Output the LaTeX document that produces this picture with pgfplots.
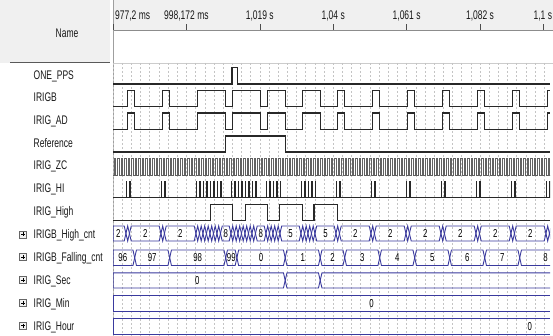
\documentclass[border=0pt]{standalone}
\usepackage{pgfplots}
\usepackage{pgfplotstable}
\pgfplotsset{compat=1.18}
\usepackage{fontspec}
\setmainfont{Liberation Sans}[FakeStretch=0.68]
\definecolor{hdr}{RGB}{240,240,240}
\definecolor{busc}{RGB}{58,58,158}
\definecolor{sigc}{RGB}{40,40,40}
\definecolor{gridc}{RGB}{196,196,196}
\definecolor{txt}{RGB}{25,25,25}
\begin{document}
\begin{tikzpicture}
\useasboundingbox (0,0) rectangle (553pt,-336pt);
\begin{scope}[x=1pt,y=-1pt]
\fill[white] (0,0) rectangle (553,336);
\fill[hdr] (0,0) rectangle (110,63);
\fill[hdr] (113,0) rectangle (553,30);
\draw[gray!90, line width=0.6pt] (113,30) -- (553,30);
\draw[black!65, line width=1pt] (10,63) -- (110,63);
\draw[gray!40, line width=0.6pt] (113,63) -- (553,63);
\draw[gray!75, line width=0.8pt] (113,0) -- (113,336);
\node[anchor=base, txt, font=\fontsize{12.5}{14}\selectfont] at (67,37.5) {Name};
\foreach \n/\y in {ONE\_PPS/75, IRIGB/97.5, IRIG\_AD/120.2, Reference/143, IRIG\_ZC/165.5, IRIG\_HI/188.5, IRIG\_High/211.5, IRIGB\_High\_cnt/234.5, IRIGB\_Falling\_cnt/257, IRIG\_Sec/280, IRIG\_Min/303, IRIG\_Hour/325.5}
  \node[anchor=base west, txt, inner sep=0pt, font=\fontsize{12.5}{14}\selectfont] at (33.5,\y+4.5) {\n};
\foreach \y in {234.5,257,280,303,325.5}{
  \draw[gray!80!black, fill=gray!10, line width=0.5pt] (19.5,\y-3.5) rectangle (26.5,\y+3.5);
  \draw[black, line width=0.6pt] (21,\y) -- (25,\y) (23,\y-2) -- (23,\y+2);
}
\end{scope}
\begin{axis}[at={(113pt,-63pt)}, anchor=north west, scale only axis,
  width=437pt, height=273pt,
  xmin=977.2, xmax=1102.06, ymin=63, ymax=336, y dir=reverse,
  axis line style={draw=none}, major tick length=0pt,
  xtick={977.2,979.8215,...,1102}, xticklabels={}, ytick=\empty,
  xmajorgrids, grid style={gridc, line width=0.5pt, dash pattern=on 2pt off 2pt},
  clip mode=individual]
% time header
\foreach \t/\l in {998.172/{998,172 ms}, 1019.144/{1,019 s}, 1040.116/{1,04 s}, 1061.088/{1,061 s}, 1082.06/{1,082 s}, 1100/{1,1 s}}{
  \edef\temp{\noexpand\node[anchor=base, txt, font=\noexpand\fontsize{12.5}{14}\noexpand\selectfont] at (axis cs:\t,19.5) {\l};
  \noexpand\draw[gray!60!black, line width=0.6pt] (axis cs:\t,24.5) -- (axis cs:\t,30);}
  \temp
}
\node[anchor=base west, txt, font=\fontsize{12.5}{14}\selectfont, inner sep=0pt, xshift=2pt] at (axis cs:977.2,19.5) {977,2 ms};
\draw[gray!60!black, line width=0.6pt] (axis cs:977.4,24.5) -- (axis cs:977.4,30);
% ONE_PPS
\addplot[const plot, sigc, line width=1.3pt] table[row sep=\\, x=t, y expr={84-16.5*\thisrow{s}}]{
t s\\ 977.2 0\\ 1011.2 1\\ 1012.7 0\\ 1102.06 0\\};
% IRIGB and IRIG_AD
\pgfplotstableread[row sep=\\]{
t s\\ 977.2 0\\ 981.4 1\\ 983.4 0\\ 991.4 1\\ 993.4 0\\ 1001.4 1\\ 1009.4 0\\ 1011.4 1\\ 1019.4 0\\
1021.4 1\\ 1026.4 0\\ 1031.4 1\\ 1036.4 0\\ 1041.4 1\\ 1043.4 0\\ 1051.4 1\\ 1053.4 0\\
1061.4 1\\ 1063.4 0\\ 1071.4 1\\ 1073.4 0\\ 1081.4 1\\ 1083.4 0\\ 1091.4 1\\ 1093.4 0\\
1101.4 1\\ 1102.06 1\\}\irigb
\addplot[const plot, sigc, line width=1.3pt] table[x=t, y expr={106.8-16.5*\thisrow{s}}]{\irigb};
\addplot[const plot, sigc, line width=1.3pt] table[x=t, y expr={129.6-16.5*\thisrow{s}}]{\irigb};
% Reference
\addplot[const plot, sigc, line width=1.3pt] table[row sep=\\, x=t, y expr={152-16*\thisrow{s}}]{
t s\\ 977.2 0\\ 1009.4 1\\ 1026.4 0\\ 1102.06 0\\};
% IRIG_ZC
\addplot[const plot, black!62, line width=0.6pt] table[row sep=\\, x=t, y expr={175-16.3*\thisrow{s}}]{
t s\\ 977.2 0\\
977.45 1\\977.95 0\\978.45 1\\978.95 0\\979.45 1\\979.95 0\\980.45 1\\980.95 0\\981.45 1\\981.95 0\\
982.45 1\\982.95 0\\983.45 1\\983.95 0\\984.45 1\\984.95 0\\985.45 1\\985.95 0\\986.45 1\\986.95 0\\
987.45 1\\987.95 0\\988.45 1\\988.95 0\\989.45 1\\989.95 0\\990.45 1\\990.95 0\\991.45 1\\991.95 0\\
992.45 1\\992.95 0\\993.45 1\\993.95 0\\994.45 1\\994.95 0\\995.45 1\\995.95 0\\996.45 1\\996.95 0\\
997.45 1\\997.95 0\\998.45 1\\998.95 0\\999.45 1\\999.95 0\\1000.45 1\\1000.95 0\\1001.45 1\\1001.95 0\\
1002.45 1\\1002.95 0\\1003.45 1\\1003.95 0\\1004.45 1\\1004.95 0\\1005.45 1\\1005.95 0\\1006.45 1\\1006.95 0\\
1007.45 1\\1007.95 0\\1008.45 1\\1008.95 0\\1009.45 1\\1009.95 0\\1010.45 1\\1010.95 0\\1011.45 1\\1011.95 0\\
1012.45 1\\1012.95 0\\1013.45 1\\1013.95 0\\1014.45 1\\1014.95 0\\1015.45 1\\1015.95 0\\1016.45 1\\1016.95 0\\
1017.45 1\\1017.95 0\\1018.45 1\\1018.95 0\\1019.45 1\\1019.95 0\\1020.45 1\\1020.95 0\\1021.45 1\\1021.95 0\\
1022.45 1\\1022.95 0\\1023.45 1\\1023.95 0\\1024.45 1\\1024.95 0\\1025.45 1\\1025.95 0\\1026.45 1\\1026.95 0\\
1027.45 1\\1027.95 0\\1028.45 1\\1028.95 0\\1029.45 1\\1029.95 0\\1030.45 1\\1030.95 0\\1031.45 1\\1031.95 0\\
1032.45 1\\1032.95 0\\1033.45 1\\1033.95 0\\1034.45 1\\1034.95 0\\1035.45 1\\1035.95 0\\1036.45 1\\1036.95 0\\
1037.45 1\\1037.95 0\\1038.45 1\\1038.95 0\\1039.45 1\\1039.95 0\\1040.45 1\\1040.95 0\\1041.45 1\\1041.95 0\\
1042.45 1\\1042.95 0\\1043.45 1\\1043.95 0\\1044.45 1\\1044.95 0\\1045.45 1\\1045.95 0\\1046.45 1\\1046.95 0\\
1047.45 1\\1047.95 0\\1048.45 1\\1048.95 0\\1049.45 1\\1049.95 0\\1050.45 1\\1050.95 0\\1051.45 1\\1051.95 0\\
1052.45 1\\1052.95 0\\1053.45 1\\1053.95 0\\1054.45 1\\1054.95 0\\1055.45 1\\1055.95 0\\1056.45 1\\1056.95 0\\
1057.45 1\\1057.95 0\\1058.45 1\\1058.95 0\\1059.45 1\\1059.95 0\\1060.45 1\\1060.95 0\\1061.45 1\\1061.95 0\\
1062.45 1\\1062.95 0\\1063.45 1\\1063.95 0\\1064.45 1\\1064.95 0\\1065.45 1\\1065.95 0\\1066.45 1\\1066.95 0\\
1067.45 1\\1067.95 0\\1068.45 1\\1068.95 0\\1069.45 1\\1069.95 0\\1070.45 1\\1070.95 0\\1071.45 1\\1071.95 0\\
1072.45 1\\1072.95 0\\1073.45 1\\1073.95 0\\1074.45 1\\1074.95 0\\1075.45 1\\1075.95 0\\1076.45 1\\1076.95 0\\
1077.45 1\\1077.95 0\\1078.45 1\\1078.95 0\\1079.45 1\\1079.95 0\\1080.45 1\\1080.95 0\\1081.45 1\\1081.95 0\\
1082.45 1\\1082.95 0\\1083.45 1\\1083.95 0\\1084.45 1\\1084.95 0\\1085.45 1\\1085.95 0\\1086.45 1\\1086.95 0\\
1087.45 1\\1087.95 0\\1088.45 1\\1088.95 0\\1089.45 1\\1089.95 0\\1090.45 1\\1090.95 0\\1091.45 1\\1091.95 0\\
1092.45 1\\1092.95 0\\1093.45 1\\1093.95 0\\1094.45 1\\1094.95 0\\1095.45 1\\1095.95 0\\1096.45 1\\1096.95 0\\
1097.45 1\\1097.95 0\\1098.45 1\\1098.95 0\\1099.45 1\\1099.95 0\\1100.45 1\\1100.95 0\\1101.45 1\\1101.95 0\\
1102.06 0\\};
% IRIG_HI
\addplot[const plot, sigc, line width=0.75pt] table[row sep=\\, x=t, y expr={197.5-16*\thisrow{s}}]{
t s\\ 977.2 0\\
980.9 1\\ 981.05 0\\ 981.9 1\\ 982.05 0\\
990.9 1\\ 991.05 0\\ 991.9 1\\ 992.05 0\\
1000.9 1\\ 1001.05 0\\ 1001.9 1\\ 1002.05 0\\ 1002.9 1\\ 1003.05 0\\ 1003.9 1\\ 1004.05 0\\
1004.9 1\\ 1005.05 0\\ 1005.9 1\\ 1006.05 0\\ 1006.9 1\\ 1007.05 0\\ 1007.9 1\\ 1008.05 0\\
1010.9 1\\ 1011.05 0\\ 1011.9 1\\ 1012.05 0\\ 1012.9 1\\ 1013.05 0\\ 1013.9 1\\ 1014.05 0\\
1014.9 1\\ 1015.05 0\\ 1015.9 1\\ 1016.05 0\\ 1016.9 1\\ 1017.05 0\\ 1017.9 1\\ 1018.05 0\\
1020.9 1\\ 1021.05 0\\ 1021.9 1\\ 1022.05 0\\ 1022.9 1\\ 1023.05 0\\ 1023.9 1\\ 1024.05 0\\ 1024.9 1\\ 1025.05 0\\
1030.9 1\\ 1031.05 0\\ 1031.9 1\\ 1032.05 0\\ 1032.9 1\\ 1033.05 0\\ 1033.9 1\\ 1034.05 0\\ 1034.9 1\\ 1035.05 0\\
1040.9 1\\ 1041.05 0\\ 1041.9 1\\ 1042.05 0\\
1050.9 1\\ 1051.05 0\\ 1051.9 1\\ 1052.05 0\\
1060.9 1\\ 1061.05 0\\ 1061.9 1\\ 1062.05 0\\
1070.9 1\\ 1071.05 0\\ 1071.9 1\\ 1072.05 0\\
1080.9 1\\ 1081.05 0\\ 1081.9 1\\ 1082.05 0\\
1090.9 1\\ 1091.05 0\\ 1091.9 1\\ 1092.05 0\\
1100.9 1\\ 1101.05 0\\ 1101.9 1\\ 1102.05 0\\};
% IRIG_High
\addplot[const plot, sigc, line width=1.3pt] table[row sep=\\, x=t, y expr={220.5-16*\thisrow{s}}]{
t s\\ 977.2 0\\ 1005.1 1\\ 1011.4 0\\ 1015.0 1\\ 1021.4 0\\ 1024.7 1\\ 1031.4 0\\ 1034.6 1\\ 1041.4 0\\ 1102.06 0\\};
% IRIGB_High_cnt
\pgfplotstableread[row sep=\\]{
t s\\ 977.2 1\\ 977.2 0\\ 980.4 0\\ 981.4 1\\ 982.4 0\\ 990.4 0\\ 991.4 1\\ 992.4 0\\
1000.4 0\\ 1001.4 1\\ 1002.4 0\\ 1003.4 1\\ 1004.4 0\\ 1005.4 1\\ 1006.4 0\\ 1007.4 1\\ 1008.4 0\\
1010.4 0\\ 1011.4 1\\ 1012.4 0\\ 1013.4 1\\ 1014.4 0\\ 1015.4 1\\ 1016.4 0\\ 1017.4 1\\ 1018.4 0\\
1020.4 0\\ 1021.4 1\\ 1022.4 0\\ 1023.4 1\\ 1024.4 0\\ 1025.4 1\\
1030.4 1\\ 1031.4 0\\ 1032.4 1\\ 1033.4 0\\ 1034.4 1\\ 1035.4 0\\
1040.4 0\\ 1041.4 1\\ 1042.4 0\\ 1050.4 0\\ 1051.4 1\\ 1052.4 0\\ 1060.4 0\\ 1061.4 1\\ 1062.4 0\\
1070.4 0\\ 1071.4 1\\ 1072.4 0\\ 1080.4 0\\ 1081.4 1\\ 1082.4 0\\ 1090.4 0\\ 1091.4 1\\ 1092.4 0\\
1100.4 0\\ 1101.4 1\\ 1102.4 0\\}\highcnt
\addplot[busc, line width=0.9pt] table[x=t, y expr={226+15*\thisrow{s}}]{\highcnt};
\addplot[busc, line width=0.9pt] table[x=t, y expr={241-15*\thisrow{s}}]{\highcnt};
% IRIGB_Falling_cnt
\pgfplotstableread[row sep=\\]{
t s\\ 977.2 1\\ 977.2 0\\ 982.9 0\\ 983.9 1\\ 992.9 1\\ 993.9 0\\ 1008.9 0\\ 1009.9 1\\ 1012.1 1\\ 1013.1 0\\
1025.9 0\\ 1026.9 1\\ 1035.9 1\\ 1036.9 0\\ 1042.9 0\\ 1043.9 1\\ 1052.9 1\\ 1053.9 0\\
1062.9 0\\ 1063.9 1\\ 1072.9 1\\ 1073.9 0\\ 1082.9 0\\ 1083.9 1\\ 1092.9 1\\ 1093.9 0\\ 1102.06 0\\}\fallcnt
\addplot[busc, line width=0.9pt] table[x=t, y expr={250+15.5*\thisrow{s}}]{\fallcnt};
\addplot[busc, line width=0.9pt] table[x=t, y expr={265.5-15.5*\thisrow{s}}]{\fallcnt};
% IRIG_Sec
\pgfplotstableread[row sep=\\]{
t s\\ 977.2 1\\ 977.2 0\\ 1025.9 0\\ 1026.9 1\\ 1035.9 1\\ 1036.9 0\\ 1102.06 0\\}\seccnt
\addplot[busc, line width=0.9pt] table[x=t, y expr={272.8+15.2*\thisrow{s}}]{\seccnt};
\addplot[busc, line width=0.9pt] table[x=t, y expr={288-15.2*\thisrow{s}}]{\seccnt};
% IRIG_Min, IRIG_Hour
\pgfplotstableread[row sep=\\]{
t s\\ 977.2 1\\ 977.2 0\\ 1102.06 0\\}\flatbus
\addplot[busc, line width=0.9pt] table[x=t, y expr={295.4+15.6*\thisrow{s}}]{\flatbus};
\addplot[busc, line width=0.9pt] table[x=t, y expr={311-15.6*\thisrow{s}}]{\flatbus};
\addplot[busc, line width=0.9pt] table[x=t, y expr={318.6+15.4*\thisrow{s}}]{\flatbus};
\addplot[busc, line width=0.9pt] table[x=t, y expr={334-15.4*\thisrow{s}}]{\flatbus};
% bus values
\foreach \t/\v in {978.7/2, 986.4/2, 996.4/2, 1009.4/8, 1019.4/8, 1027.9/5, 1037.9/5, 1046.4/2, 1056.4/2, 1066.4/2, 1076.4/2, 1086.4/2, 1096.4/2}{
  \edef\temp{\noexpand\node[anchor=base, black, inner sep=0pt, font=\noexpand\fontsize{11.5}{13}\noexpand\selectfont] at (axis cs:\t,237.6) {\v};}\temp}
\foreach \t/\v in {980.0/96, 988.4/97, 1001.4/98, 1011.0/99, 1019.5/0, 1031.4/1, 1039.9/2, 1048.4/3, 1058.4/4, 1068.4/5, 1078.4/6, 1088.4/7, 1100.8/8}{
  \edef\temp{\noexpand\node[anchor=base, black, inner sep=0pt, font=\noexpand\fontsize{11.5}{13}\noexpand\selectfont] at (axis cs:\t,261.9) {\v};}\temp}
\node[anchor=base, black, inner sep=0pt, font=\fontsize{11.5}{13}\selectfont] at (axis cs:1001.3,284.5) {0};
\node[anchor=base, black, inner sep=0pt, font=\fontsize{11.5}{13}\selectfont] at (axis cs:1051.1,307.3) {0};
\node[anchor=base, black, inner sep=0pt, font=\fontsize{11.5}{13}\selectfont] at (axis cs:1096.3,330.4) {0};
\end{axis}
\end{tikzpicture}
\end{document}
